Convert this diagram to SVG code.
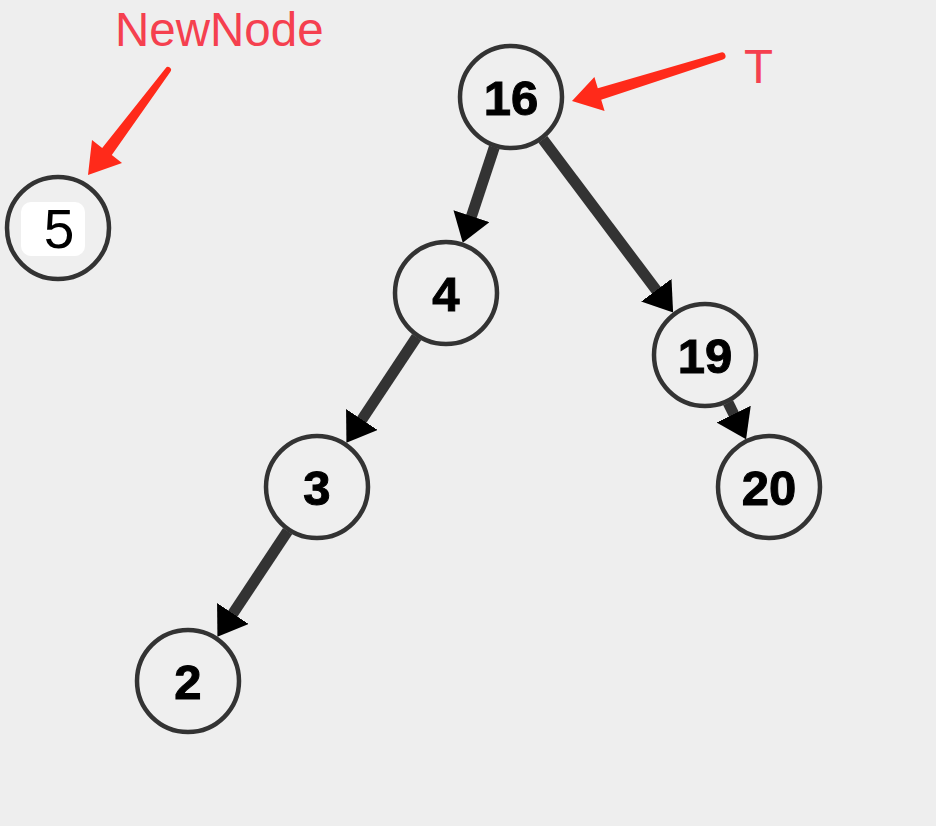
<svg xmlns="http://www.w3.org/2000/svg" width="936" height="826" viewBox="0 0 936 826">
<defs>
<marker id="ah" viewBox="0 0 28 38" markerWidth="28" markerHeight="38" markerUnits="userSpaceOnUse" refX="2" refY="19" orient="auto">
<path d="M0,0 L28,19 L0,38 Z" fill="#000"/>
</marker>
</defs>
<style>
.node circle{fill:#efefef;stroke:#333;stroke-width:4.5}
.node text{font-family:"Liberation Sans",Arial,sans-serif;font-size:49px;font-weight:bold;fill:#000;stroke:#000;stroke-width:1;text-anchor:middle}
.edge{stroke:#333;stroke-width:11;marker-end:url(#ah)}
.lbl{font-family:"Liberation Sans",Arial,sans-serif;font-size:47.5px;fill:#f5404f}
.ptr{fill:#ff2a1a}
</style>
<rect width="936" height="826" fill="#eeeeee"/>
<g id="connectors">
<line class="edge" x1="494.3" y1="147.3" x2="470.9" y2="218.0"/>
<line class="edge" x1="542.9" y1="139.4" x2="657.5" y2="291.8"/>
<line class="edge" x1="416.6" y1="337.1" x2="360.8" y2="421.2"/>
<line class="edge" x1="287.6" y1="531.1" x2="231.8" y2="615.2"/>
<line class="edge" x1="728.1" y1="402.7" x2="734.6" y2="415.9"/>
</g>
<g id="node-16" class="node"><circle cx="511" cy="97" r="51"/><text x="511" y="114.5">16</text></g>
<g id="node-4" class="node"><circle cx="446" cy="293" r="51"/><text x="446" y="310.5">4</text></g>
<g id="node-19" class="node"><circle cx="705" cy="355" r="51"/><text x="705" y="372.5">19</text></g>
<g id="node-3" class="node"><circle cx="317" cy="487" r="51"/><text x="317" y="504.5">3</text></g>
<g id="node-20" class="node"><circle cx="769" cy="487" r="51"/><text x="769" y="504.5">20</text></g>
<g id="node-2" class="node"><circle cx="188" cy="681" r="51"/><text x="188" y="698.5">2</text></g>
<g id="node-5" class="node"><circle cx="58" cy="228" r="51"/><rect x="21" y="202" width="64" height="54" rx="10" fill="#fff"/><text x="59" y="248" style="font-weight:normal;stroke:none;font-size:55px">5</text></g>
<g id="label-newnode">
<text class="lbl" x="115" y="46">NewNode</text>
<path class="ptr" d="M165.6,68.2 L102.2,147.9 L92,140 L88,175 L122,163 L111.8,155.1 L170.4,71.8 A3 3 0 0 0 165.6,68.2 Z"/>
</g>
<g id="label-t">
<text class="lbl" x="744" y="83">T</text>
<path class="ptr" d="M721,52.6 L597.8,88.25 L594.4,76.9 L572,101 L604.6,111.1 L601.2,99.75 L723,59.4 A3.5 3.5 0 0 0 721,52.6 Z"/>
</g>
</svg>
